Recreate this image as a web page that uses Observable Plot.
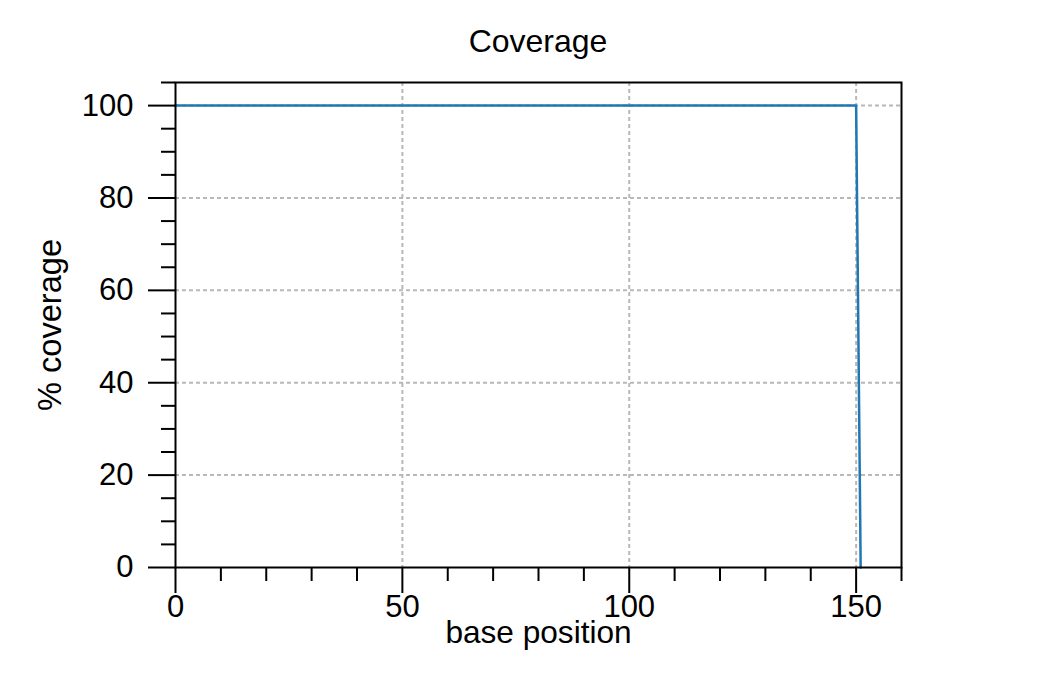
<!DOCTYPE html>
<html>
<head>
<meta charset="utf-8">
<script src="https://cdn.jsdelivr.net/npm/d3@7"></script>
<script src="https://cdn.jsdelivr.net/npm/@observablehq/plot@0.6"></script>
<style>
  html, body { margin: 0; padding: 0; background: #fff; }
  #title { width: 1044px; height: 60px; box-sizing: border-box; padding-top: 25px; padding-left: 32px;
    font-family: "Liberation Sans", Arial, sans-serif; font-size: 32px; line-height: 32px; text-align: center; color: #000; }
</style>
</head>
<body>
<div id="title">Coverage</div>
<div id="chart"></div>
<script>
// Data
const basePosition = [0, 150, 151];
const coverage = [100, 100, 0];

const xMajorTicks = [0, 50, 100, 150];
const xMinorTicks = [10, 20, 30, 40, 60, 70, 80, 90, 110, 120, 130, 140, 160];
const yMajorTicks = [0, 20, 40, 60, 80, 100];
const yMinorTicks = [5, 10, 15, 25, 30, 35, 45, 50, 55, 65, 70, 75, 85, 90, 95, 105];
const xGrid = [50, 100, 150];
const yGrid = [20, 40, 60, 80, 100];

const rows = basePosition.map((x, i) => ({x, y: coverage[i]}));

const font = "'Liberation Sans', Arial, sans-serif";
const gridStyle = {stroke: "#b8b8b8", strokeOpacity: 1, strokeWidth: 2, strokeDasharray: "4,3"};

const chart = Plot.plot({
  width: 1044,
  height: 622,
  marginTop: 22,
  marginLeft: 175,
  marginRight: 143,
  marginBottom: 115,
  style: {fontFamily: font, fontSize: "31px", color: "#000", background: "#fff"},
  x: {domain: [0, 160]},
  y: {domain: [0, 105]},
  marks: [
    Plot.gridX(xGrid, gridStyle),
    Plot.gridY(yGrid, gridStyle),
    Plot.line(rows, {x: "x", y: "y", stroke: "#1f77b4", strokeWidth: 2.5}),
    Plot.frame({stroke: "#000", strokeWidth: 2}),
    Plot.axisX(xMajorTicks, {tickSize: 26, tickPadding: 1, strokeWidth: 2, fontSize: 31, label: null, tickFormat: d => String(d)}),
    Plot.axisX(xMinorTicks, {tickSize: 14, strokeWidth: 2, label: null, tickFormat: () => ""}),
    Plot.axisY(yMajorTicks, {tickSize: 27, tickPadding: 15, strokeWidth: 2, fontSize: 31, label: null, tickFormat: d => String(d)}),
    Plot.axisY(yMinorTicks, {tickSize: 14, strokeWidth: 2, label: null, tickFormat: () => ""}),
    Plot.text(["base position"], {frameAnchor: "bottom", textAnchor: "middle", lineAnchor: "middle", dy: 65, fontSize: 31.6, text: d => d}),
    Plot.text(["% coverage"], {frameAnchor: "left", textAnchor: "middle", lineAnchor: "middle", rotate: -90, dx: -125, fontSize: 32.6, text: d => d})
  ]
});
document.getElementById("chart").appendChild(chart);
</script>
</body>
</html>
